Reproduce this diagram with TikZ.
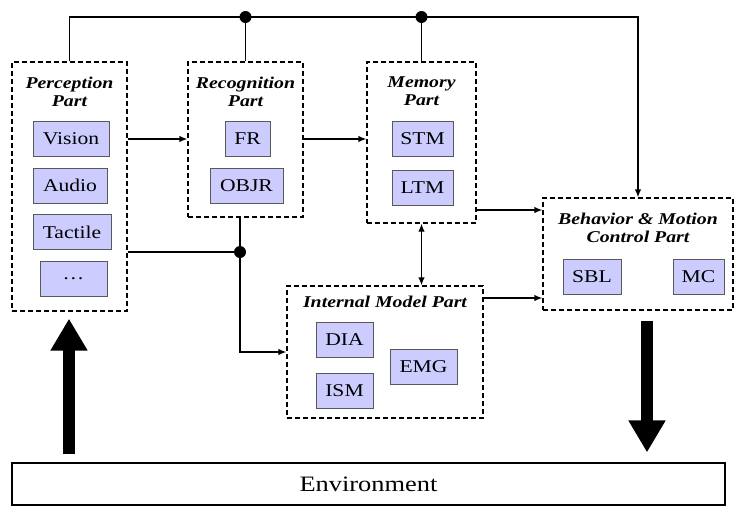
\documentclass[tikz,border=0pt]{standalone}
\usepackage{fontspec}
\usepackage{graphicx}
\setmainfont{Liberation Serif}
\usetikzlibrary{arrows.meta}
\definecolor{unitfill}{RGB}{204,204,255}
\newcommand{\wide}[1]{\scalebox{1.2}[1]{#1}}
\begin{document}
\begin{tikzpicture}[x=1pt, y=-1pt, >={Latex[length=8pt,width=6.5pt]},
  part/.style={draw, line width=1.3pt, dash pattern=on 5pt off 3pt, inner sep=0pt},
  unit/.style={draw=black!65, fill=unitfill, line width=0.9pt, inner sep=0pt, minimum height=35pt, font=\fontsize{18}{20}\selectfont},
  title/.style={anchor=north, align=center, inner sep=0pt, font=\fontsize{16.5}{18}\selectfont\bfseries\itshape},
  link/.style={line width=1.3pt},
  bigarrow/.style={line width=12pt, -{Triangle[width=35pt,length=32pt]}}]
\useasboundingbox (0,0) rectangle (735,507);

% outer parts
\node[part, minimum width=115pt, minimum height=249pt] (perc) at (69.5,186.5) {};
\node[part, minimum width=115pt, minimum height=155pt] (rec) at (245.5,139.5) {};
\node[part, minimum width=109pt, minimum height=161pt] (mem) at (421.5,142.5) {};
\node[part, minimum width=190pt, minimum height=112pt] (beh) at (638,254) {};
\node[part, minimum width=196pt, minimum height=132pt] (inm) at (385,352) {};
\node[draw, line width=1.2pt, minimum width=713pt, minimum height=42pt, font=\fontsize{22}{24}\selectfont] (env) at (368.5,484) {\wide{Environment}};

% titles
\node[title] (perct) at ([yshift=-15pt]perc.north) {\wide{Perception}\\\wide{Part}};
\node[title] (rect) at ([yshift=-15pt]rec.north) {\wide{Recognition}\\\wide{Part}};
\node[title] (memt) at ([yshift=-15pt]mem.north) {\wide{Memory}\\\wide{Part}};
\node[title] (beht) at ([yshift=-15pt]beh.north) {\wide{Behavior \& Motion}\\\wide{Control Part}};
\node[title] (inmt) at ([yshift=-10pt]inm.north) {\wide{Internal Model Part}};

% units
\foreach \n/\t/\x/\y/\w in {vis/Vision/71/139/76, aud/Audio/70/185.5/74, tac/Tactile/72/232/78, dots/{\ldots}/73.5/278.5/67,
  fr/FR/247.5/139/45, objr/OBJR/246.5/185.5/73, stm/STM/422.5/139/61, ltm/LTM/422.5/187.5/61,
  sbl/SBL/592/277/58, mc/MC/698.5/277/51, dia/DIA/344.5/339.5/57, ism/ISM/344.5/390.5/57, emg/EMG/423.5/367/67}
{
    \node[unit, minimum width=\w pt] (\n) at (\x,\y) {\wide{\t}};
}

% bus on top
\coordinate (bus) at (0,17);
\draw[link,->] (perc.north) -- (perc.north |- bus) -- (beh.north |- bus) -- (beh.north);
\foreach \p in {rec, mem}
{
    \draw[link] (\p.north) -- (\p.north |- bus);
    \fill (\p.north |- bus) circle (6pt);
}

% connectors
\draw[link,->] (perc.east |- vis) -- (rec.west |- vis);
\draw[link,->] (rec.east |- vis) -- (mem.west |- vis);
\draw[link,->] (mem.east |- 0,210) -- (beh.west |- 0,210);
\draw[link,->] (inm.east |- 0,298) -- (beh.west |- 0,298);
\draw[link,<->] (mem.south) -- (mem.south |- inm.north);
\coordinate (jn) at (240,252);
\draw[link] (perc.east |- jn) -- (jn);
\draw[link] (jn |- rec.south) -- (jn);
\draw[link,->] (jn) |- (inm.west |- 0,352);
\fill (jn) circle (6pt);

% environment arrows
\coordinate (upx) at (69,0);
\coordinate (dnx) at (647,0);
\draw[bigarrow, shorten <=8pt, shorten >=7pt] (upx |- env.north) -- (upx |- perc.south);
\draw[bigarrow, shorten <=10pt, shorten >=10pt] (dnx |- beh.south) -- (dnx |- env.north);
\end{tikzpicture}
\end{document}
